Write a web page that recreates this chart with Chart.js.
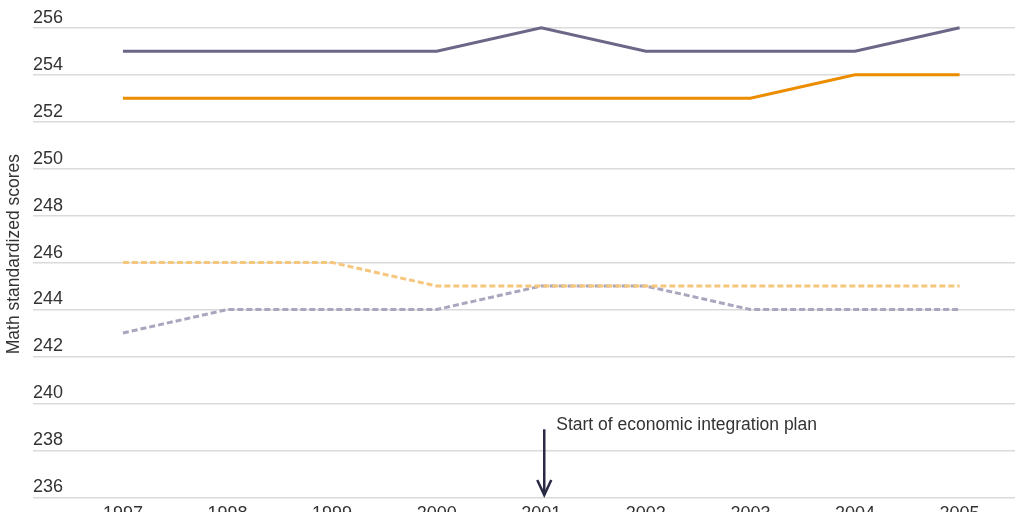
<!DOCTYPE html>
<html>
<head>
<meta charset="utf-8">
<script src="https://cdn.jsdelivr.net/npm/chart.js@4.4.1/dist/chart.umd.min.js"></script>
<style>
  html, body { margin: 0; padding: 0; background: #fff; overflow: hidden; }
  .wrap { width: 1024px; height: 531px; }
</style>
</head>
<body>
<div class="wrap"><canvas id="myChart"></canvas></div>
<script>
  const years = [1997, 1998, 1999, 2000, 2001, 2002, 2003, 2004, 2005];
  const purpleSolid = [255, 255, 255, 255, 256, 255, 255, 255, 256];
  const orangeSolid = [253, 253, 253, 253, 253, 253, 253, 254, 254];
  const orangeDashed = [246, 246, 246, 245, 245, 245, 245, 245, 245];
  const purpleDashed = [243, 244, 244, 244, 245, 245, 244, 244, 244];
  const yTicks = [236, 238, 240, 242, 244, 246, 248, 250, 252, 254, 256];
  const annotationYear = 2001;
  const annotationText = 'Start of economic integration plan';

  const FONT = '"Liberation Sans", Arial, sans-serif';

  function points(values) {
    return years.map(function(y, i) { return { x: y, y: values[i] }; });
  }

  // arrow + label for the plan start
  const arrowPlugin = {
    id: 'arrowNote',
    afterDatasetsDraw(chart) {
      const c = chart.ctx;
      const x = chart.scales.x.getPixelForValue(annotationYear) + 3;
      const yTop = chart.scales.y.getPixelForValue(238.9);
      const yBot = chart.scales.y.getPixelForValue(236.1);
      c.save();
      c.strokeStyle = '#2b2a44';
      c.lineWidth = 2.5;
      c.beginPath();
      c.moveTo(x, yTop);
      c.lineTo(x, yBot);
      c.stroke();
      c.beginPath();
      c.moveTo(x - 7, yBot - 15);
      c.lineTo(x, yBot);
      c.lineTo(x + 7, yBot - 15);
      c.stroke();
      c.fillStyle = '#333';
      c.font = '17.5px ' + FONT;
      c.textBaseline = 'middle';
      c.fillText(annotationText, x + 12, yTop - 4);
      c.restore();
    }
  };

  let ctx = document.getElementById('myChart').getContext('2d');

  let chart = new Chart(ctx, {
    type: 'line',
    data: {
      datasets: [{
        data: points(purpleSolid),
        borderColor: '#6d6787',
        borderWidth: 3,
      },
      {
        data: points(orangeSolid),
        borderColor: '#ec8d00',
        borderWidth: 3,
      },
      {
        data: points(orangeDashed),
        borderColor: '#f5c67c',
        borderWidth: 3,
        borderDash: [6, 3],
      },
      {
        data: points(purpleDashed),
        borderColor: '#aaa6bd',
        borderWidth: 3,
        borderDash: [6, 3],
      }]
    },
    options: {
      responsive: true,
      maintainAspectRatio: false,
      animation: false,
      events: [],
      elements: {
        point: { radius: 0 },
        line: { tension: 0 }
      },
      layout: {
        padding: { top: 0, right: 9, left: 4, bottom: 0 }
      },
      plugins: {
        legend: { display: false },
        tooltip: { enabled: false }
      },
      scales: {
        x: {
          type: 'linear',
          min: 1996.14,
          max: 2005.53,
          grid: { display: false, drawTicks: false },
          border: { display: false },
          ticks: {
            stepSize: 1,
            includeBounds: false,
            padding: 6,
            color: '#333',
            font: { family: FONT, size: 18 },
            callback: function(v) { return String(v); }
          }
        },
        y: {
          min: 236,
          max: 256.72,
          grid: { color: '#dadada', lineWidth: 1.5, drawTicks: false },
          border: { display: false },
          afterBuildTicks: function(axis) {
            axis.ticks = yTicks.map(function(v) { return { value: v }; });
          },
          ticks: {
            mirror: true,
            padding: 0,
            labelOffset: -10,
            color: '#333',
            font: { family: FONT, size: 18 }
          },
          title: {
            display: true,
            text: 'Math standardized scores',
            color: '#333',
            font: { family: FONT, size: 17.5 },
            padding: { top: 0, bottom: 8 }
          }
        }
      }
    },
    plugins: [arrowPlugin]
  });
</script>
</body>
</html>
